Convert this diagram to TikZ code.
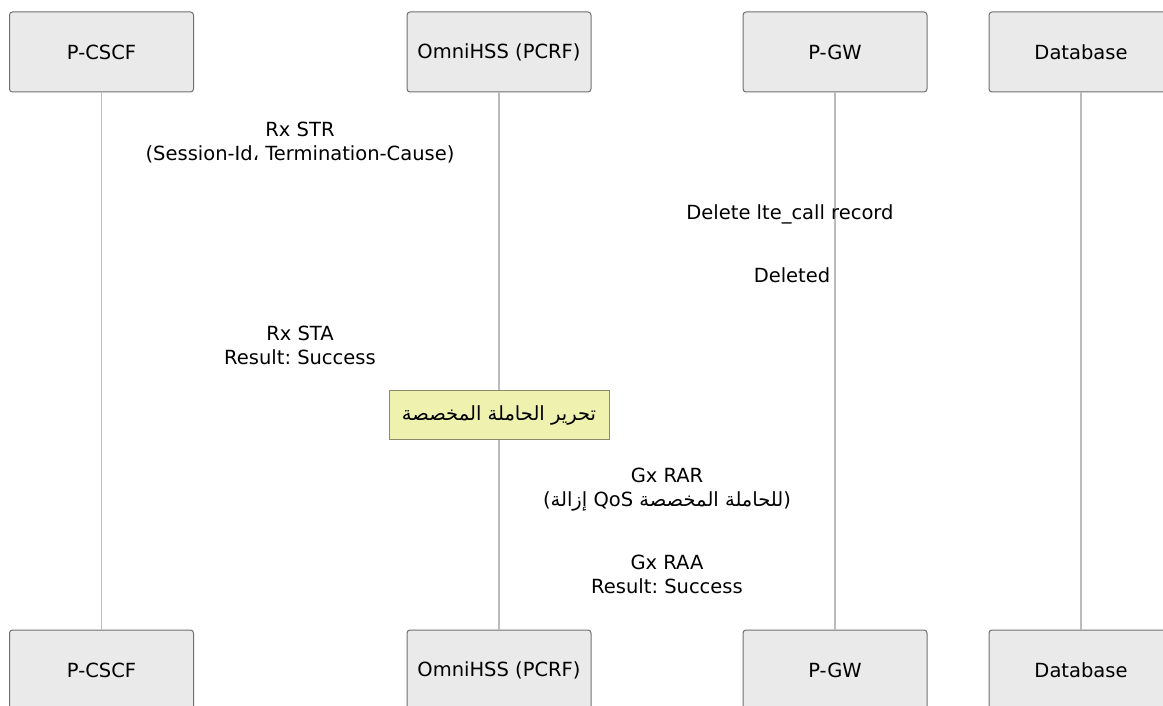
\documentclass[tikz,border=0pt]{standalone}
\usepackage{fontspec}
\setmainfont{DejaVu Sans}
\newfontfamily\arabicfont[Script=Arabic]{DejaVu Sans}
\TeXXeTstate=1
\frenchspacing
\usepackage{xcolor}
\usepackage{tikz}
\usetikzlibrary{positioning}
\definecolor{actfill}{HTML}{EAEAEA}
\definecolor{actline}{HTML}{707070}
\definecolor{notefill}{HTML}{EEF2AE}
\definecolor{noteline}{HTML}{8A8A6A}
\definecolor{lifeln}{HTML}{BBBBBB}

\begin{document}
\begin{tikzpicture}[x=1pt,y=-1pt,
  every node/.style={font=\fontsize{19.5}{24}\selectfont},
  act/.style={draw=actline,fill=actfill,line width=1pt,rounded corners=3pt,minimum width=184pt,minimum height=80pt},
  nt/.style={draw=noteline,fill=notefill,line width=1pt,minimum width=220pt,minimum height=49pt},
  msg/.style={align=center,inner sep=0pt},
  life/.style={draw=lifeln,line width=1.5pt}]
\useasboundingbox (0,0) rectangle (1163,706);
% participants, top and bottom
\node[act] (pcscf) at (101.5,52) {P-CSCF};
\node[act] (hss)   at (499,52)   {OmniHSS (PCRF)};
\node[act] (pgw)   at (835,52)   {P-GW};
\node[act] (db)    at (1081,52)  {Database};
\node[act] (pcscfb) at (101.5,670) {P-CSCF};
\node[act] (hssb)   at (499,670)   {OmniHSS (PCRF)};
\node[act] (pgwb)   at (835,670)   {P-GW};
\node[act] (dbb)    at (1081,670)  {Database};
% lifelines
\draw[life] (pcscf) -- (pcscfb);
\draw[life] (hss) -- (hssb);
\draw[life] (pgw) -- (pgwb);
\draw[life] (db) -- (dbb);
% note over the PCRF
\node[nt] (rel) at (499,415) {\arabicfont\beginR تحرير الحاملة المخصصة\endR};
% message labels
\node[msg] (str) at (300,143) {Rx STR\\(Session-Id، Termination-Cause)};
\node[msg] (del) at (790,214) {Delete lte\_call record};
\node[msg] (dld) at (792,275) {Deleted};
\node[msg] (sta) at (300,345) {Rx STA\\Result: Success};
\node[msg] (rar) at (667,489.5) {Gx RAR\\({\arabicfont\beginR إزالة\endR} QoS {\arabicfont\beginR للحاملة المخصصة\endR})};
\node[msg] (raa) at (667,574.5) {Gx RAA\\Result: Success};
\end{tikzpicture}
\end{document}
